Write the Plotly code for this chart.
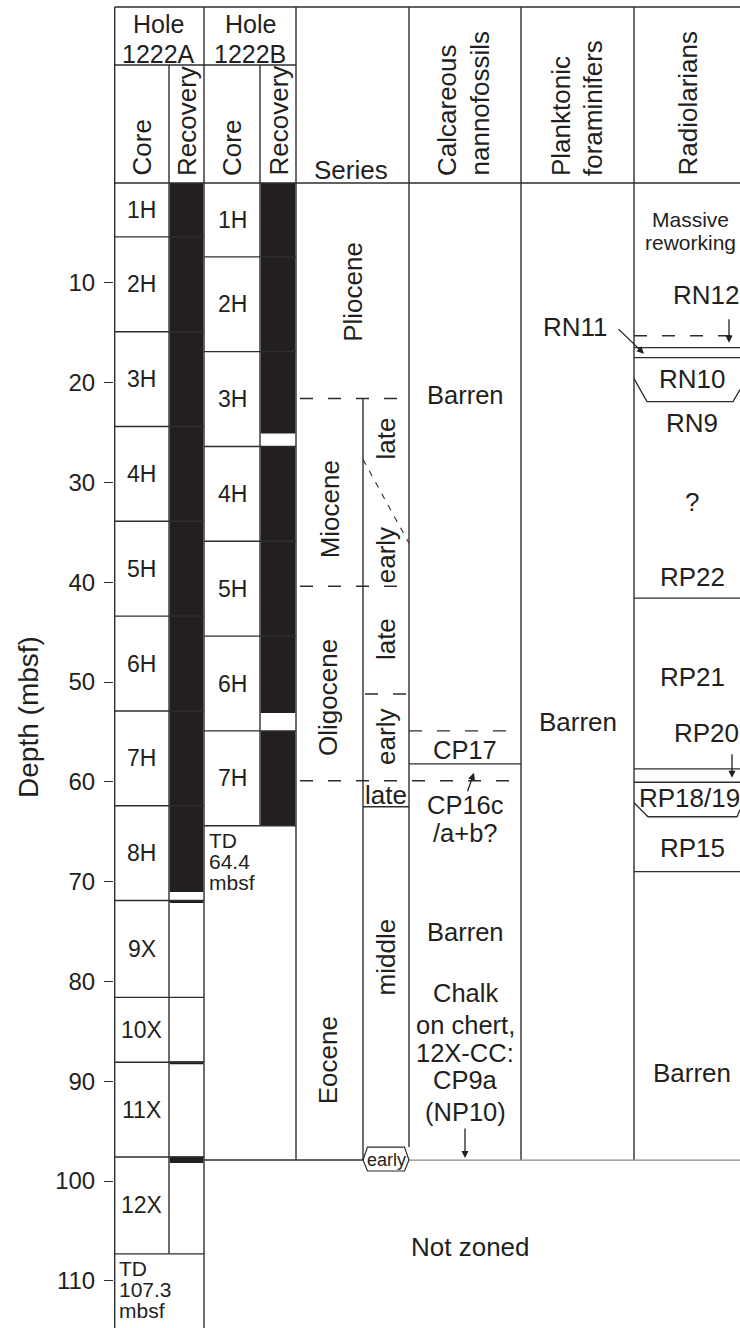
import plotly.graph_objects as go

# ---------------- data ----------------
depth_ticks = [10, 20, 30, 40, 50, 60, 70, 80, 90, 100, 110]

coreA_names = ["1H", "2H", "3H", "4H", "5H", "6H", "7H", "8H", "9X", "10X", "11X", "12X"]
coreA_tops = [0.0, 5.4, 14.9, 24.4, 33.9, 43.4, 52.9, 62.4, 71.9, 81.6, 88.1, 97.6]
coreA_td = 107.3
recA_tops = [0.0, 71.85, 88.0, 97.55]
recA_bottoms = [71.05, 72.15, 88.3, 98.2]

coreB_names = ["1H", "2H", "3H", "4H", "5H", "6H", "7H"]
coreB_tops = [0.0, 7.4, 16.9, 26.4, 35.9, 45.4, 54.9]
coreB_td = 64.4
recB_tops = [0.0, 26.4, 54.9]
recB_bottoms = [25.1, 53.1, 64.4]

series_names = ["Pliocene", "Miocene", "Oligocene", "Eocene"]
series_tops = [0.0, 21.6, 40.4, 59.9]
series_label_depths = [10.9, 32.7, 51.6, 87.9]
series_base = 97.9

stage_names = ["late", "early", "late", "early", "middle"]
stage_label_depths = [25.6, 37.3, 45.7, 55.5, 77.6]
eocene_late_depth = 61.3
eocene_late_base = 62.5
oligocene_stage_boundary = 51.2
miocene_diag_top = 27.7
miocene_diag_bottom = 36.1
early_eocene_depth = 97.9

nanno_lines = ["Barren", "CP17", "CP16c", "/a+b?", "Barren", "Chalk", "on chert,", "12X-CC:", "CP9a", "(NP10)"]
nanno_line_depths = [21.2, 56.8, 62.35, 65.15, 75.0, 81.2, 84.4, 87.2, 89.9, 93.1]
nanno_dashed = [54.9]
nanno_solid = [58.2]

pf_labels = ["Barren"]
pf_label_depths = [54.0]

rad_labels = ["RN10", "RN9", "?", "RP22", "RP21", "RP18/19", "RP15", "Barren"]
rad_label_depths = [19.6, 24.0, 32.0, 39.5, 49.5, 61.6, 66.6, 89.2]
rad_dashed = [15.3]
rad_solid = [16.5, 17.5, 41.6, 58.7, 60.05, 69.0]

# ---------------- layout constants ----------------
INK = "#231f20"
LINE = "#2e2e2e"
FONT = "Liberation Sans, Arial, Helvetica, sans-serif"
PXM = 9.98        # pixels per metre
Y0 = 183.0        # pixel row of 0 mbsf
W, H = 740, 1328
ML = 114


def hy(px):
    return (px - Y0) / PXM


XL, XCA, XRA, XCB, XRB = 114.7, 169, 204, 260, 296
XSUB, XNAN, XPF, XRAD, XR = 363, 409, 521, 634, 740

shapes = []
ann = []


def line(x0, y0, x1, y1, color=LINE, width=1.4, dash=None):
    d = dict(type="line", xref="x", yref="y", x0=x0, y0=y0, x1=x1, y1=y1,
             line=dict(color=color, width=width))
    if dash:
        d["line"]["dash"] = dash
    shapes.append(d)


def rect(x0, y0, x1, y1, fill=INK):
    shapes.append(dict(type="rect", xref="x", yref="y", x0=x0, y0=y0, x1=x1, y1=y1,
                       fillcolor=fill, line=dict(width=0)))


def path(p, color=LINE, width=1.4, dash=None):
    d = dict(type="path", xref="x", yref="y", path=p, line=dict(color=color, width=width))
    if dash:
        d["line"]["dash"] = dash
    shapes.append(d)


def txt(x, y, s, size=26, angle=0, xanchor="center", yanchor="middle"):
    ann.append(dict(x=x, y=y, xref="x", yref="y", text=s, showarrow=False,
                    font=dict(size=size, color=INK, family=FONT), textangle=angle,
                    xanchor=xanchor, yanchor=yanchor))


def arrow(xh, yh, xt, yt):
    ann.append(dict(x=xh, y=yh, ax=xt, ay=yt, xref="x", yref="y", axref="x", ayref="y",
                    text="", showarrow=True, arrowhead=2, arrowsize=1.1, arrowwidth=1.3,
                    arrowcolor=INK))


DASH = "13px,15px"

# ---------------- recovery fills ----------------
for t, b in zip(recA_tops, recA_bottoms):
    rect(XCA + 0.7, t, XRA - 0.7, b)
for t, b in zip(recB_tops, recB_bottoms):
    rect(XCB + 0.7, t, XRB - 0.7, b)

# ---------------- header frame ----------------
top = hy(7)
hole = hy(65)
line(XL, top, XR, top)
line(XL, 0, XR, 0)
line(XL, hole, XRB, hole)
line(XL, top, XL, hy(H))
line(XRA, top, XRA, hy(H))
line(XCA, hole, XCA, coreA_td)
line(XCB, hole, XCB, coreB_td)
line(XRB, top, XRB, series_base)
line(XNAN, top, XNAN, 96.6)
line(XPF, top, XPF, series_base)
line(XRAD, top, XRAD, series_base)

# ---------------- core boxes ----------------
for t in coreA_tops[1:] + [coreA_td]:
    line(XL, t, XRA, t)
for t in coreB_tops[1:] + [coreB_td]:
    line(XRA, t, XRB, t)
coreA_bottoms = coreA_tops[1:] + [coreA_td]
for n, t, b in zip(coreA_names, coreA_tops, coreA_bottoms):
    txt(141.5, (t + b) / 2, n, size=23)
coreB_bottoms = coreB_tops[1:] + [coreB_td]
for n, t, b in zip(coreB_names, coreB_tops, coreB_bottoms):
    txt(232, (t + b) / 2, n, size=23)

for i, s in enumerate(["TD", "64.4", "mbsf"]):
    txt(207, coreB_td + 1.45 + i * 2.1, s, size=21, xanchor="left")
for i, s in enumerate(["TD", "107.3", "mbsf"]):
    txt(116.5, coreA_td + 1.45 + i * 2.1, s, size=21, xanchor="left")

# ---------------- series column ----------------
line(XSUB, series_tops[1], XSUB, early_eocene_depth)
line(300, series_tops[1], XNAN, series_tops[1], dash=DASH)
line(300, series_tops[2], XNAN, series_tops[2], dash=DASH)
line(300, series_tops[3], XPF, series_tops[3], dash=DASH)
line(XSUB + 2, oligocene_stage_boundary, XNAN, oligocene_stage_boundary, dash=DASH)
line(XSUB, eocene_late_base, XNAN, eocene_late_base)
line(XSUB, miocene_diag_top, XNAN, miocene_diag_bottom, width=1.1, dash="6px,7px")
line(XRA, series_base, XSUB, series_base)
line(XNAN, series_base, XR, series_base, color="#8a8a8a", width=1.3)
hx = [XSUB, XSUB + 4.5, XNAN - 4.5, XNAN]
path(f"M {hx[0]},{early_eocene_depth} L {hx[1]},96.6 L {hx[2]},96.6 L {hx[3]},{early_eocene_depth} "
     f"L {hx[2]},99.0 L {hx[1]},99.0 Z", width=1.2)
txt(386, early_eocene_depth, "early", size=18)

series_x = [353, 330, 328, 328]
for n, d, x in zip(series_names, series_label_depths, series_x):
    txt(x, d, n, angle=-90)
for n, d in zip(stage_names, stage_label_depths):
    txt(386, d, n, angle=-90)
txt(386, eocene_late_depth, "late", size=26)

# ---------------- nannofossils ----------------
for d in nanno_dashed:
    line(XNAN, d, XPF, d, dash=DASH)
for d in nanno_solid:
    line(XNAN, d, XPF, d)
for s, d in zip(nanno_lines, nanno_line_depths):
    txt(465, d, s, size=25.5)
arrow(474, 59.1, 467, 61.1)
arrow(465, 97.7, 465, 94.6)

# ---------------- planktonic foraminifers ----------------
for s, d in zip(pf_labels, pf_label_depths):
    txt(578, d, s)
txt(575, 14.4, "RN11")
arrow(644, 17.1, 617, 14.5)

# ---------------- radiolarians ----------------
txt(690, 3.7, "Massive", size=21)
txt(690, 6.0, "reworking", size=21)
txt(706, 11.2, "RN12")
arrow(729, 16.0, 729, 13.5)
for d in rad_dashed:
    line(XRAD, d, XR, d, dash=DASH)
for d in rad_solid:
    line(XRAD, d, XR, d)
path("M 634,19.6 L 647,21.9 L 733,21.9 L 740,20.7", width=1.3)
path("M 634,62.1 L 648,63.5 L 737,63.5 L 740,62.8", width=1.3)
rad_x = [692, 692, 692, 692, 692, 689, 692, 692]
for s, d, x in zip(rad_labels, rad_label_depths, rad_x):
    txt(x, d, s)
txt(706, 55.1, "RP20")
arrow(732, 59.6, 732, 57.1)

txt(470, 106.6, "Not zoned")

# ---------------- header text ----------------
txt(158.5, hy(24), "Hole", size=25)
txt(158.5, hy(53.5), "1222A", size=25)
txt(250, hy(24), "Hole", size=25)
txt(250, hy(53.5), "1222B", size=25)
for x, s in [(141.5, "Core"), (187, "Recovery"), (232, "Core"), (278.5, "Recovery")]:
    txt(x, hy(178), s, angle=-90, yanchor="bottom")
txt(351, hy(170), "Series")
for x, s in [(447, "Calcareous"), (479, "nannofossils"), (561, "Planktonic"),
             (593, "foraminifers"), (687, "Radiolarians")]:
    txt(x, hy(178), s, angle=-90, yanchor="bottom")

ann.append(dict(x=(29 - ML) / (W - ML), y=53.5, xref="paper", yref="y", text="Depth (mbsf)",
                showarrow=False, textangle=-90, font=dict(size=28, color=INK, family=FONT),
                xanchor="center", yanchor="middle"))

fig = go.Figure()
fig.add_trace(go.Scatter(x=[XL], y=[0], mode="markers", marker=dict(opacity=0), hoverinfo="skip",
                         showlegend=False))
fig.update_layout(
    width=W, height=H, margin=dict(l=ML, r=0, t=0, b=0, pad=0),
    paper_bgcolor="white", plot_bgcolor="white", showlegend=False,
    shapes=shapes, annotations=ann,
    xaxis=dict(range=[ML, W], visible=False, fixedrange=True),
    yaxis=dict(range=[hy(H), hy(0)], tickvals=depth_ticks, ticks="outside", ticklen=9,
               tickwidth=1.4, tickcolor=LINE, showline=False, showgrid=False, zeroline=False,
               tickfont=dict(size=24, color=INK, family=FONT), ticklabelstandoff=4,
               fixedrange=True),
)
fig.write_html("out.html", config={"displayModeBar": False, "responsive": False})
